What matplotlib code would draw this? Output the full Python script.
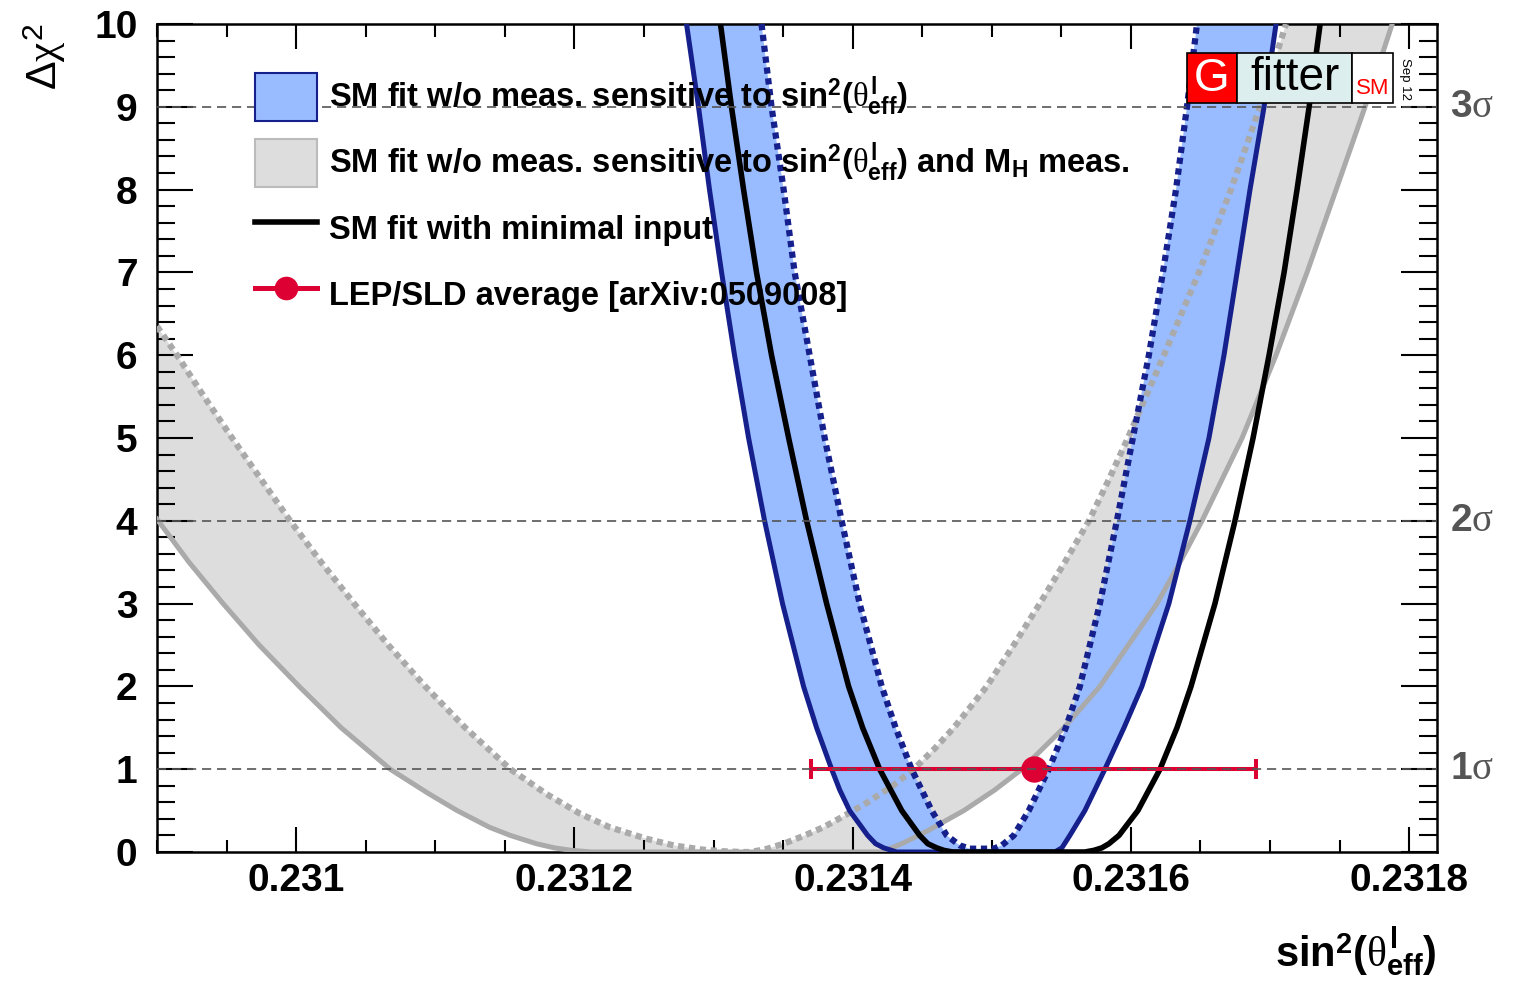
import matplotlib
matplotlib.use("Agg")
import matplotlib.pyplot as plt
from matplotlib.patches import Patch, Rectangle
from matplotlib.lines import Line2D
from matplotlib.ticker import MultipleLocator

plt.rcParams["font.family"] = ["Liberation Sans", "DejaVu Sans"]
plt.rcParams["mathtext.fontset"] = "custom"
plt.rcParams["mathtext.rm"] = "Liberation Sans:bold"
plt.rcParams["mathtext.bf"] = "Liberation Sans:bold"
plt.rcParams["mathtext.it"] = "Liberation Serif"
plt.rcParams["mathtext.sf"] = "Liberation Sans"

# SM fit w/o meas. sensitive to sin2(theta_eff): outer (solid) / inner (dotted) curve
blue_outer_x = [0.2312806, 0.2312892, 0.2312971, 0.2313058, 0.2313151, 0.2313252, 0.2313367,
                0.2313496, 0.2313647, 0.2313741, 0.2313849, 0.2313907, 0.2313978, 0.2314108,
                0.2314165, 0.2314223, 0.2314317,
                0.2315453, 0.2315504, 0.2315561, 0.2315669, 0.2315813, 0.2315950, 0.2316079,
                0.2316273, 0.2316424, 0.2316561, 0.2316669, 0.2316763, 0.2316856, 0.2316957,
                0.2317043]
blue_outer_y = [10, 9, 8, 7, 6, 5, 4, 3, 2, 1.5, 1, 0.75, 0.5, 0.2, 0.1, 0.05, 0,
                0, 0.05, 0.2, 0.5, 1, 1.5, 2, 3, 4, 5, 6, 7, 8, 9, 10]
blue_inner_x = [0.2313345, 0.2313417, 0.2313504, 0.2313583, 0.2313691, 0.2313799, 0.2313921,
                0.2314050, 0.2314209, 0.2314309, 0.2314424, 0.2314568, 0.2314676, 0.2314770,
                0.2314842,
                0.2315014, 0.2315072, 0.2315158, 0.2315266, 0.2315410, 0.2315532, 0.2315633,
                0.2315777, 0.2315899, 0.2316014, 0.2316129, 0.2316230, 0.2316324, 0.2316403,
                0.2316475]
blue_inner_y = [10, 9, 8, 7, 6, 5, 4, 3, 2, 1.5, 1, 0.5, 0.2, 0.08, 0.04,
                0.04, 0.08, 0.2, 0.5, 1, 1.5, 2, 3, 4, 5, 6, 7, 8, 9, 10]

# SM fit w/o meas. sensitive to sin2(theta_eff) and M_H meas.
grey_outer_x = [0.2309000, 0.2309230, 0.2309475, 0.2309734, 0.2310022, 0.2310324, 0.2310676,
                0.2310957, 0.2311158, 0.2311388, 0.2311540, 0.2311727, 0.2311856, 0.2311978,
                0.2312122,
                0.2314209, 0.2314353, 0.2314532, 0.2314799, 0.2315022, 0.2315216, 0.2315518,
                0.2315777, 0.2316187, 0.2316353, 0.2316511, 0.2316799, 0.2317043, 0.2317266,
                0.2317475, 0.2317683, 0.2317878]
grey_outer_y = [4.02, 3.5, 3.0, 2.5, 2.0, 1.5, 1.0, 0.7, 0.5, 0.3, 0.2, 0.1, 0.05, 0.02, 0,
                0, 0.1, 0.25, 0.5, 0.75, 1.0, 1.5, 2.0, 3.0, 3.5, 4.0, 5.0, 6.0, 7.0, 8.0,
                9.0, 10.0]
grey_inner_x = [0.2309000, 0.2309144, 0.2309338, 0.2309540, 0.2309748, 0.2309957, 0.2310180,
                0.2310417, 0.2310662, 0.2310928, 0.2311216, 0.2311540, 0.2311799, 0.2312043,
                0.2312252, 0.2312518, 0.2312712, 0.2312914, 0.2313058, 0.2313201,
                0.2313259, 0.2313367, 0.2313504, 0.2313655, 0.2313791, 0.2313921, 0.2314108,
                0.2314288, 0.2314439, 0.2314590, 0.2314727, 0.2314964, 0.2315158, 0.2315345,
                0.2315525, 0.2315698, 0.2315842, 0.2315978, 0.2316237, 0.2316489, 0.2316719,
                0.2316928, 0.2317115]
grey_inner_y = [6.35, 6.0, 5.5, 5.0, 4.5, 4.0, 3.5, 3.0, 2.5, 2.0, 1.5, 1.0, 0.7, 0.46,
                0.3, 0.16, 0.08, 0.03, 0.01, 0.0,
                0.0, 0.03, 0.1, 0.2, 0.3, 0.42, 0.6, 0.8, 1.0, 1.25, 1.5, 2.0, 2.5, 3.0,
                3.5, 4.0, 4.5, 5.0, 6.0, 7.0, 8.0, 9.0, 10.0]

# SM fit with minimal input
black_x = [0.2313050, 0.2313129, 0.2313216, 0.2313309, 0.2313417, 0.2313540, 0.2313669,
           0.2313813, 0.2313971, 0.2314072, 0.2314194, 0.2314353, 0.2314482, 0.2314540,
           0.2314604, 0.2314655, 0.2314719,
           0.2315669, 0.2315734, 0.2315791, 0.2315842, 0.2315914, 0.2316050, 0.2316209,
           0.2316331, 0.2316432, 0.2316604, 0.2316748, 0.2316878, 0.2316993, 0.2317101,
           0.2317194, 0.2317281, 0.2317360]
black_y = [10, 9, 8, 7, 6, 5, 4, 3, 2, 1.5, 1, 0.5, 0.2, 0.1, 0.05, 0.02, 0,
           0, 0.02, 0.05, 0.1, 0.2, 0.5, 1, 1.5, 2, 3, 4, 5, 6, 7, 8, 9, 10]

# LEP/SLD average
lep_x = 0.23153
lep_err = 0.00016
lep_y = 1.0

sigma_levels = [1, 4, 9]
sigma_labels = ["1", "2", "3"]
x_ticks = [0.2310, 0.2312, 0.2314, 0.2316, 0.2318]
x_tick_labels = ["0.231", "0.2312", "0.2314", "0.2316", "0.2318"]
y_ticks = [0, 1, 2, 3, 4, 5, 6, 7, 8, 9, 10]
y_tick_labels = [str(v) for v in y_ticks]

navy = "#15208c"
lightblue = "#99bbff"
grey_line = "#aaaaaa"
grey_fill = "#dddddd"
red = "#dd0033"

W, H = 1525, 981
fig = plt.figure(figsize=(W / 100, H / 100), dpi=100)
ax = fig.add_axes([157 / W, 129 / H, 1280 / W, 828 / H])

# bands
ax.fill(grey_outer_x + grey_inner_x[::-1], grey_outer_y + grey_inner_y[::-1],
        color=grey_fill, lw=0, zorder=1)
ax.fill(blue_outer_x + blue_inner_x[::-1], blue_outer_y + blue_inner_y[::-1],
        color=lightblue, lw=0, zorder=2)
ax.plot(grey_outer_x, grey_outer_y, color=grey_line, lw=3.6, zorder=3)
ax.plot(grey_inner_x, grey_inner_y, color=grey_line, lw=4.5, ls=(0, (1.0, 0.75)), zorder=3)
ax.plot(blue_outer_x, blue_outer_y, color=navy, lw=3.6, zorder=4)
ax.plot(blue_inner_x, blue_inner_y, color=navy, lw=4.5, ls=(0, (1.0, 0.75)), zorder=4)
ax.plot(black_x, black_y, color="black", lw=4.0, zorder=5)

ax.errorbar([lep_x], [lep_y], xerr=[lep_err], fmt="o", color=red, ms=18, lw=2.9,
            capsize=7.5, capthick=2.9, zorder=6)

for lev, lab in zip(sigma_levels, sigma_labels):
    ax.axhline(lev, color="#555555", lw=1.2, ls=(0, (5.5, 3.5)), zorder=10)
    ax.text(1.0102, lev, lab + r"$\sigma$", transform=ax.get_yaxis_transform(),
            ha="left", va="center", color="#555555", fontsize=28, fontweight="bold")

ax.set_xlim(0.2309, 0.23182)
ax.set_ylim(0, 10)
ax.set_xticks(x_ticks, x_tick_labels, fontweight="bold", fontsize=28)
ax.set_yticks(y_ticks, y_tick_labels, fontweight="bold", fontsize=28)
ax.xaxis.set_minor_locator(MultipleLocator(0.00005))
ax.yaxis.set_minor_locator(MultipleLocator(0.2))
ax.tick_params(which="both", direction="in", top=True, right=True, width=1.5)
ax.tick_params(axis="x", which="major", length=18, pad=8)
ax.tick_params(axis="x", which="minor", length=9)
ax.tick_params(axis="y", which="major", length=26, pad=14)
ax.tick_params(axis="y", which="minor", length=13)
for sp in ax.spines.values():
    sp.set_linewidth(1.8)

# axis titles
fig.text(1437 / W, 1 - 967 / H, r"sin$^{2}$($\theta^{\rm l}_{\rm eff}$)", ha="right",
         va="baseline", fontsize=30, fontweight="bold")
fig.text(45 / W, 1 - 57 / H, r"$\mathsf{\Delta}\chi^{\mathsf{2}}$", rotation=90,
         ha="center", va="center", fontsize=31)

# legend
handles = [
    Patch(facecolor=lightblue, edgecolor=navy, lw=1.5),
    Patch(facecolor=grey_fill, edgecolor="#bbbbbb", lw=1.5),
    Line2D([], [], color="black", lw=4.0),
    Line2D([], [], color=red, lw=3.6, marker="o", ms=16),
]
labels = [
    r"SM fit w/o meas. sensitive to sin$^{2}$($\theta^{\rm l}_{\rm eff}$)",
    r"SM fit w/o meas. sensitive to sin$^{2}$($\theta^{\rm l}_{\rm eff}$) and M$_{\rm H}$ meas.",
    "SM fit with minimal input",
    "LEP/SLD average [arXiv:0509008]",
]
leg = ax.legend(handles, labels, loc="upper left", bbox_to_anchor=(0.0766, 0.9408),
                frameon=False, borderpad=0, borderaxespad=0, handlelength=1.9,
                handleheight=1.885, handletextpad=0.37, labelspacing=0.55,
                prop={"weight": "bold", "size": 23.5})
leg.set_zorder(20)

# Gfitter logo
def box(x0, x1, fc):
    fig.add_artist(Rectangle((x0 / W, 1 - 103 / H), (x1 - x0) / W, 50 / H,
                             transform=fig.transFigure, fc=fc, ec="black", lw=1.2, zorder=20))

box(1187, 1237, "#ff0000")
box(1237, 1352, "#ddeeee")
box(1352, 1393, "white")
fig.text(1212 / W, 1 - 79 / H, "G", color="white", fontsize=33, ha="center", va="center", zorder=21)
fig.text(1295 / W, 1 - 78 / H, "fitter", color="black", fontsize=33, ha="center", va="center", zorder=21)
fig.text(1373 / W, 1 - 89 / H, "SM", color="red", fontsize=16, ha="center", va="center", zorder=21)
fig.text(1405 / W, 1 - 79 / H, "Sep 12", fontsize=9.5, rotation=-90, ha="center", va="center", zorder=21)

fig.savefig("out.png", dpi=100)
